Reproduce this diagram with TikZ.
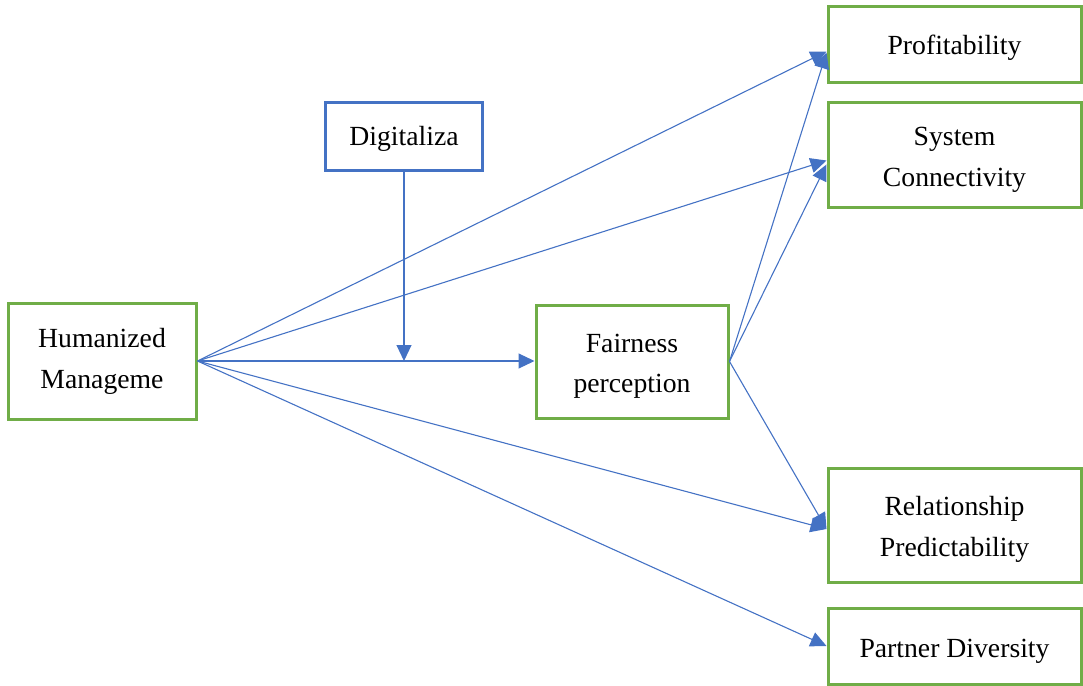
\documentclass[tikz,border=0pt]{standalone}
\usepackage{fontspec}
\setmainfont{Liberation Serif}
\usetikzlibrary{arrows.meta}
\definecolor{lineblue}{HTML}{4472C4}
\definecolor{boxgreen}{HTML}{70AD47}
\begin{document}
\begin{tikzpicture}[x=1pt,y=-1pt,
  box/.style={draw=boxgreen,line width=3pt,fill=white,rectangle,inner sep=0pt},
  bluebox/.style={box,draw=lineblue},
  txt/.style={align=center,inner sep=0pt,font=\fontsize{27.7}{40.5}\selectfont},
  conn/.style={draw=lineblue,line width=1.1pt,-{Triangle[length=16pt,width=15pt]}}]
\useasboundingbox (0,0) rectangle (1083,685);
\node[box,minimum width=253pt,minimum height=75pt] (prof) at (954.5,44.5) {};
\node[box,minimum width=253pt,minimum height=105pt] (sys) at (954.5,154.5) {};
\node[box,minimum width=253pt,minimum height=114pt] (rel) at (954.5,525) {};
\node[box,minimum width=253pt,minimum height=76pt] (part) at (954.5,646) {};
\node[bluebox,minimum width=157pt,minimum height=68pt] (dig) at (404,136) {};
\node[box,minimum width=188pt,minimum height=116pt] (hum) at (102,361) {};
\node[box,minimum width=192pt,minimum height=113pt] (fair) at (632,361.5) {};
\node[txt] (proft) at ([yshift=-3.5pt]prof.center) {Profitability};
\node[txt] (syst) at ([yshift=-5.5pt]sys.center) {System\\Connectivity};
\node[txt] (relt) at ([yshift=-4.5pt]rel.center) {Relationship\\Predictability};
\node[txt] (partt) at ([yshift=-5pt]part.center) {Partner Diversity};
\node[txt] (digt) at ([yshift=-3pt]dig.center) {Digitaliza};
\node[txt] (humt) at ([yshift=-0.5pt]hum.center) {Humanized\\Manageme};
\node[txt] (fairt) at ([yshift=-5pt]fair.center) {Fairness\\perception};
\coordinate (j) at (dig.south |- hum.east);
\draw[conn] (hum.east) -- ([yshift=-7pt]prof.west);
\draw[conn] (hum.east) -- ([yshift=-6pt]sys.west);
\draw[conn] (hum.east) -- (fair.west |- hum.east);
\draw[conn] (hum.east) -- ([yshift=-4pt]rel.west);
\draw[conn] (hum.east) -- (part.west);
\draw[conn] (dig.south) -- (j);
\draw[conn] (fair.east) -- ([yshift=-8pt]prof.west);
\draw[conn] (fair.east) -- ([yshift=-10pt]sys.west);
\draw[conn] (fair.east) -- ([yshift=-4pt]rel.west);
\end{tikzpicture}
\end{document}
